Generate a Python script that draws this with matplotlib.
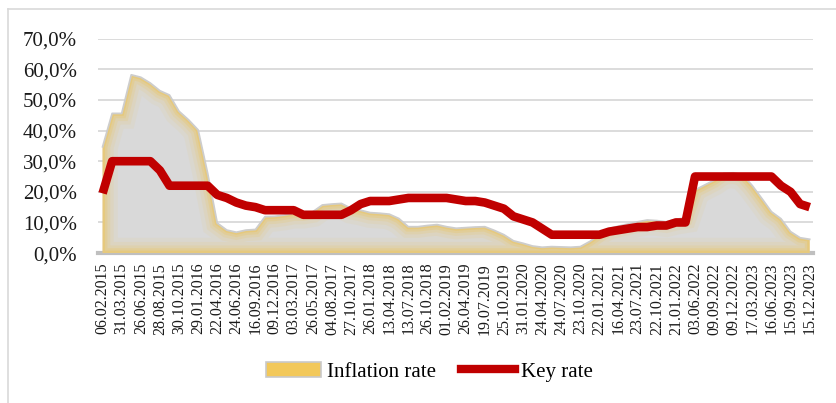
import numpy as np
import matplotlib.pyplot as plt
from matplotlib.patches import PathPatch, Patch
from matplotlib.lines import Line2D
from matplotlib.ticker import FuncFormatter

# tick labels (every second observation is labelled)
dates = ['06.02.2015', '31.03.2015', '26.06.2015', '28.08.2015', '30.10.2015',
         '29.01.2016', '22.04.2016', '24.06.2016', '16.09.2016', '09.12.2016',
         '03.03.2017', '26.05.2017', '04.08.2017', '27.10.2017', '26.01.2018',
         '13.04.2018', '13.07.2018', '26.10.2018', '01.02.2019', '26.04.2019',
         '19.07.2019', '25.10.2019', '31.01.2020', '24.04.2020', '24.07.2020',
         '23.10.2020', '22.01.2021', '16.04.2021', '23.07.2021', '22.10.2021',
         '21.01.2022', '03.06.2022', '09.09.2022', '09.12.2022', '17.03.2023',
         '16.06.2023', '15.09.2023', '15.12.2023']

# values in %
inflation = [34.7, 45.6, 45.6, 58.2, 57.4, 55.5, 53.0, 51.6, 46.3, 43.5,
             40.2, 26.0, 9.8, 7.5, 6.8, 7.5, 7.7, 11.9, 12.0, 12.4,
             13.0, 13.0, 13.5, 15.7, 16.0, 16.2, 14.6, 14.0, 13.2, 13.0,
             12.7, 11.3, 8.6, 8.6, 9.0, 9.3, 8.6, 8.1, 8.3, 8.5,
             8.6, 7.4, 6.0, 4.0, 3.2, 2.3, 1.9, 2.1, 2.0, 1.9,
             2.1, 3.8, 6.0, 8.0, 8.8, 9.5, 10.2, 10.8, 10.6, 10.2,
             11.0, 11.5, 20.6, 22.2, 23.8, 26.0, 26.2, 25.5, 22.0, 17.8,
             13.5, 11.2, 7.0, 5.0, 4.5]

key_rate = [19.5, 30.0, 30.0, 30.0, 30.0, 30.0, 27.0, 22.0, 22.0, 22.0,
            22.0, 22.0, 19.0, 18.0, 16.5, 15.5, 15.0, 14.0, 14.0, 14.0,
            14.0, 12.5, 12.5, 12.5, 12.5, 12.5, 14.0, 16.0, 17.0, 17.0,
            17.0, 17.5, 18.0, 18.0, 18.0, 18.0, 18.0, 17.5, 17.0, 17.0,
            16.5, 15.5, 14.5, 12.0, 11.0, 10.0, 8.0, 6.0, 6.0, 6.0,
            6.0, 6.0, 6.0, 7.0, 7.5, 8.0, 8.5, 8.5, 9.0, 9.0,
            10.0, 10.0, 25.0, 25.0, 25.0, 25.0, 25.0, 25.0, 25.0, 25.0,
            25.0, 22.0, 20.0, 16.0, 15.0]

plt.rcParams['font.family'] = ['Liberation Serif', 'DejaVu Serif']

fig = plt.figure(figsize=(8.36, 4.03), dpi=100)
ax = fig.add_axes([0.117, 0.372, 0.8555, 0.532])

x = np.arange(len(inflation))

# inflation area: grey fill with a soft golden edge
area = ax.fill_between(x, inflation, 0, facecolor='#d9d9d9', edgecolor='none', zorder=2)
path = area.get_paths()[0]
clip = PathPatch(path, transform=ax.transData, facecolor='none', edgecolor='none')
for lw, a in [(22, 0.07), (16, 0.1), (11, 0.15), (7, 0.22), (3.5, 0.35)]:
    glow = PathPatch(path, facecolor='none', edgecolor='#f0c24b', lw=lw, alpha=a, zorder=3)
    ax.add_patch(glow)
    glow.set_clip_path(clip)
ax.plot(x, inflation, color='#cdcdcd', lw=1.3, zorder=4)

# key rate line
ax.plot(x, key_rate, color='#c00000', lw=6.2, solid_joinstyle='round',
        solid_capstyle='butt', zorder=5)

ax.set_xlim(-0.5, len(x) - 1 + 0.35)
ax.set_ylim(0, 70)
ax.set_yticks(np.arange(0, 71, 10))
ax.yaxis.set_major_formatter(FuncFormatter(lambda v, p: f"{v:.1f}%".replace('.', ',')))
ax.set_xticks(x[::2])
ax.set_xticklabels(dates, rotation=90, fontsize=11.5, color='#1a1a1a')

ax.yaxis.grid(True, color='#d9d9d9', lw=1.3)
ax.set_axisbelow(True)
for s in ['top', 'right', 'left']:
    ax.spines[s].set_visible(False)
ax.spines['bottom'].set_color('#bfbfbf')
ax.spines['bottom'].set_linewidth(3)
ax.spines['bottom'].set_zorder(1)
ax.tick_params(axis='y', length=0, pad=15, labelsize=15, labelcolor='#1a1a1a')
ax.tick_params(axis='x', length=0, pad=7)

# legend
handles = [Patch(facecolor='#f2c85a', edgecolor='#c9c9c9', lw=1.2, label='Inflation rate'),
           Line2D([], [], color='#c00000', lw=6, label='Key rate')]
fig.legend(handles=handles, loc='center', bbox_to_anchor=(0.514, 0.077), ncol=2,
           frameon=False, fontsize=15, handlelength=2.6, handletextpad=0.3,
           columnspacing=1.2)

# chart border (top and left edges visible)
fig.add_artist(Line2D([8 / 836, 1.0], [1 - 9 / 403] * 2, color='#d9d9d9', lw=1.2))
fig.add_artist(Line2D([8 / 836] * 2, [0.0, 1 - 9 / 403], color='#d9d9d9', lw=1.2))

fig.savefig('out.png', dpi=100)
